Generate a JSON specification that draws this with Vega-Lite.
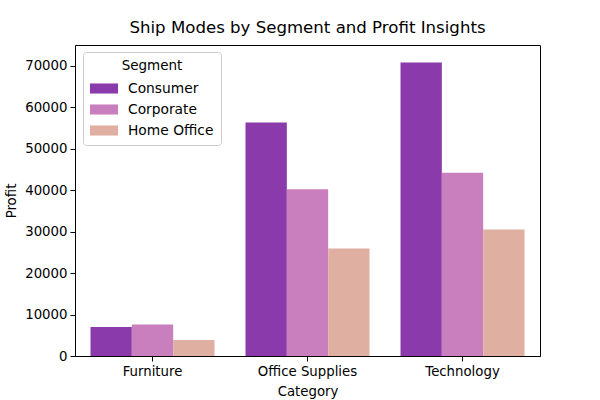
{
  "$schema": "https://vega.github.io/schema/vega-lite/v6.json",
  "autosize": "none",
  "width": 465,
  "height": 311,
  "padding": {"left": 75, "top": 45, "right": 60, "bottom": 44},
  "background": "white",
  "config": {
    "font": "DejaVu Sans",
    "view": {"stroke": "black", "strokeWidth": 1},
    "axis": {"grid": false, "domain": true, "domainColor": "black", "tickColor": "black", "labelColor": "black", "titleColor": "black", "labelFontSize": 13.3, "titleFontSize": 13.3, "titleFontWeight": "normal", "tickSize": 5, "labelPadding": 3}
  },
  "title": {"text": "Ship Modes by Segment and Profit Insights", "fontSize": 16.6, "fontWeight": "normal", "color": "black", "offset": 8},
  "data": {"values": [
    {"Category": "Furniture", "Segment": "Consumer", "Profit": 6991},
    {"Category": "Furniture", "Segment": "Corporate", "Profit": 7584},
    {"Category": "Furniture", "Segment": "Home Office", "Profit": 3875},
    {"Category": "Office Supplies", "Segment": "Consumer", "Profit": 56330},
    {"Category": "Office Supplies", "Segment": "Corporate", "Profit": 40228},
    {"Category": "Office Supplies", "Segment": "Home Office", "Profit": 25933},
    {"Category": "Technology", "Segment": "Consumer", "Profit": 70798},
    {"Category": "Technology", "Segment": "Corporate", "Profit": 44167},
    {"Category": "Technology", "Segment": "Home Office", "Profit": 30490}
  ]},
  "mark": {"type": "bar"},
  "encoding": {
    "x": {"field": "Category", "type": "nominal", "sort": null,
      "scale": {"paddingInner": 0.2, "paddingOuter": 0.1},
      "axis": {"labelAngle": 0, "title": "Category", "titlePadding": 7}},
    "xOffset": {"field": "Segment", "type": "nominal", "sort": ["Consumer", "Corporate", "Home Office"], "scale": {"paddingInner": 0, "paddingOuter": 0}},
    "y": {"field": "Profit", "type": "quantitative",
      "scale": {"domain": [0, 75000], "nice": false},
      "axis": {"values": [0, 10000, 20000, 30000, 40000, 50000, 60000, 70000], "format": "d", "title": "Profit", "titlePadding": 6}},
    "color": {"field": "Segment", "type": "nominal", "sort": ["Consumer", "Corporate", "Home Office"],
      "scale": {"domain": ["Consumer", "Corporate", "Home Office"], "range": ["#8A3AAA", "#C97FBE", "#DFB0A2"]},
      "legend": {"orient": "none", "legendX": 8, "legendY": 7, "title": "Segment", "titleFontSize": 13.5, "titleFontWeight": "normal", "titleAnchor": "middle", "titleColor": "black", "titlePadding": 2, "labelFontSize": 13.8, "labelColor": "black", "fillColor": "white", "strokeColor": "#cccccc", "cornerRadius": 3, "padding": 7, "rowPadding": -7.5, "symbolType": "M-1,-0.36H1V0.36H-1Z", "symbolSize": 784, "symbolStrokeWidth": 0, "symbolOpacity": 1, "labelOffset": 10}}
  }
}
